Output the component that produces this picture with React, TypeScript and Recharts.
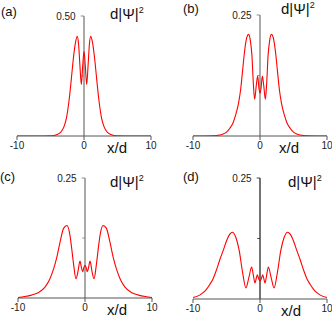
import React from "react";
import { LineChart, Line, XAxis, YAxis, ReferenceLine } from "recharts";

// --- DATA (x in units of d) ---
const xA = [-10, -6, -5, -4.5, -4, -3.5, -3, -2.6, -2.2, -1.9, -1.6, -1.3, -1, -0.8, -0.6, -0.4, -0.2, 0, 0.2, 0.4, 0.6, 0.8, 1, 1.3, 1.6, 1.9, 2.2, 2.6, 3, 3.5, 4, 4.5, 5, 6, 10];
const yA = [0, 0.0001, 0.0007, 0.002, 0.006, 0.015, 0.038, 0.078, 0.155, 0.235, 0.32, 0.385, 0.415, 0.38, 0.29, 0.214, 0.29, 0.353, 0.29, 0.214, 0.29, 0.38, 0.415, 0.385, 0.32, 0.235, 0.155, 0.078, 0.038, 0.015, 0.006, 0.002, 0.0007, 0.0001, 0];

const xB = [-10, -7, -6, -5.5, -5, -4.5, -4, -3.6, -3.2, -2.9, -2.6, -2.3, -2, -1.7, -1.45, -1.2, -1, -0.8, -0.55, -0.35, -0.15, 0, 0.15, 0.35, 0.55, 0.8, 1, 1.2, 1.45, 1.7, 2, 2.3, 2.6, 2.9, 3.2, 3.6, 4, 4.5, 5, 5.5, 6, 7, 10];
const yB = [0, 0.0005, 0.002, 0.004, 0.008, 0.016, 0.028, 0.045, 0.068, 0.095, 0.135, 0.175, 0.202, 0.21, 0.198, 0.165, 0.11, 0.076, 0.105, 0.124, 0.098, 0.088, 0.098, 0.124, 0.105, 0.076, 0.11, 0.165, 0.198, 0.21, 0.202, 0.175, 0.135, 0.095, 0.068, 0.045, 0.028, 0.016, 0.008, 0.004, 0.002, 0.0005, 0];

const xC = [-10, -9, -8, -7, -6, -5.3, -4.7, -4.2, -3.7, -3.2, -2.7, -2.3, -2, -1.7, -1.35, -1.05, -0.75, -0.55, -0.35, -0.15, 0, 0.15, 0.35, 0.55, 0.75, 1.05, 1.35, 1.7, 2, 2.3, 2.7, 3.2, 3.7, 4.2, 4.7, 5.3, 6, 7, 8, 9, 10];
const yC = [0.001, 0.003, 0.006, 0.011, 0.022, 0.038, 0.06, 0.085, 0.118, 0.145, 0.151, 0.135, 0.105, 0.07, 0.04, 0.055, 0.077, 0.065, 0.055, 0.064, 0.068, 0.064, 0.055, 0.065, 0.077, 0.055, 0.04, 0.07, 0.105, 0.135, 0.151, 0.145, 0.118, 0.085, 0.06, 0.038, 0.022, 0.011, 0.006, 0.003, 0.001];

const xD = [-10, -9, -8.5, -8, -7.5, -7, -6.5, -6, -5.5, -5, -4.5, -4.1, -3.6, -3.1, -2.6, -2.1, -1.65, -1.25, -1, -0.75, -0.55, -0.4, -0.2, 0, 0.2, 0.4, 0.55, 0.75, 1, 1.25, 1.65, 2.1, 2.6, 3.1, 3.6, 4.1, 4.5, 5, 5.5, 6, 6.5, 7, 7.5, 8, 8.5, 9, 10];
const yD = [0.003, 0.008, 0.013, 0.02, 0.03, 0.042, 0.06, 0.081, 0.1, 0.12, 0.134, 0.138, 0.127, 0.1, 0.055, 0.023, 0.045, 0.066, 0.05, 0.033, 0.043, 0.05, 0.042, 0.037, 0.042, 0.05, 0.043, 0.033, 0.05, 0.066, 0.045, 0.023, 0.055, 0.1, 0.127, 0.138, 0.134, 0.12, 0.1, 0.081, 0.06, 0.042, 0.03, 0.02, 0.013, 0.008, 0.003];

const X_TICKS = [-10, 0, 10];

const FONT = "'Liberation Sans', Arial, sans-serif";
const RED = "#ff0000";

const toRows = (xs: number[], ys: number[]) => xs.map((x, i) => ({ x, y: ys[i] }));

const PANELS = [
    { key: "a", left: 0, top: 0, margin: { top: 16, right: 15, bottom: 0, left: 17 }, axisH: 24, yMax: 0.5, yLabel: "0.50", mid: 0.25, axisColor: "#8c8c8c", data: toRows(xA, yA) },
    { key: "b", left: 166, top: 0, margin: { top: 15, right: 5, bottom: 0, left: 27 }, axisH: 24, yMax: 0.25, yLabel: "0.25", mid: 0.125, axisColor: "#8c8c8c", data: toRows(xB, yB) },
    { key: "c", left: 0, top: 160, margin: { top: 18, right: 14, bottom: 0, left: 18 }, axisH: 22, yMax: 0.25, yLabel: "0.25", mid: 0.125, axisColor: "#8c8c8c", data: toRows(xC, yC) },
    { key: "d", left: 166, top: 160, margin: { top: 18, right: 5, bottom: 0, left: 27 }, axisH: 21, yMax: 0.25, yLabel: "0.25", mid: 0.125, axisColor: "#444", data: toRows(xD, yD) },
];

// text overlay positions (baseline coords)
const LABELS = [
    { letter: "(a)", lx: 1, ly: 16, px: 110, py: 19, dx: 107, dy: 153 },
    { letter: "(b)", lx: 183, ly: 13, px: 281, py: 14, dx: 279, dy: 153 },
    { letter: "(c)", lx: 0, ly: 181, px: 110, py: 187, dx: 107, dy: 315 },
    { letter: "(d)", lx: 183, ly: 181, px: 288, py: 187, dx: 281, dy: 316 },
];

function Panel({ p }: { p: (typeof PANELS)[number] }) {
    return (
        <div style={{ position: "absolute", left: p.left, top: p.top }}>
            <LineChart width={166} height={160} data={p.data} margin={p.margin} style={{ fontFamily: FONT }}>
                <XAxis
                    type="number"
                    dataKey="x"
                    domain={[-10, 10]}
                    ticks={X_TICKS}
                    interval={0}
                    height={p.axisH}
                    tickSize={4}
                    tickMargin={2}
                    stroke="#555"
                    tick={{ fontSize: 10, fill: "#222", fontFamily: FONT }}
                />
                <YAxis hide type="number" domain={[0, p.yMax]} allowDataOverflow />
                <ReferenceLine x={0} stroke={p.axisColor} strokeWidth={1.5} />
                <ReferenceLine
                    segment={[{ x: -0.5, y: p.yMax }, { x: 0, y: p.yMax }]}
                    stroke={p.axisColor}
                    label={{ value: p.yLabel, position: "left", fontSize: 10, fill: "#222", fontFamily: FONT }}
                />
                <ReferenceLine segment={[{ x: -0.4, y: p.mid }, { x: 0, y: p.mid }]} stroke={p.axisColor} />
                <Line type="monotone" dataKey="y" stroke={RED} strokeWidth={1.1} dot={false} isAnimationActive={false} />
            </LineChart>
        </div>
    );
}

export default function App() {
    return (
        <div style={{ position: "absolute", left: 0, top: 0, width: 332, height: 319, background: "#fff", fontFamily: FONT }}>
            {PANELS.map((p) => (
                <Panel key={p.key} p={p} />
            ))}
            <svg width={332} height={319} style={{ position: "absolute", left: 0, top: 0, pointerEvents: "none" }}>
                {LABELS.map((l) => (
                    <g key={l.letter} fontFamily={FONT} fill="#111">
                        <text x={l.lx} y={l.ly} fontSize={13}>{l.letter}</text>
                        <text x={l.px} y={l.py} fontSize={15}>
                            d|Ψ|<tspan fontSize={9} dy={-6}>2</tspan>
                        </text>
                        <text x={l.dx} y={l.dy} fontSize={15}>x/d</text>
                    </g>
                ))}
            </svg>
        </div>
    );
}
